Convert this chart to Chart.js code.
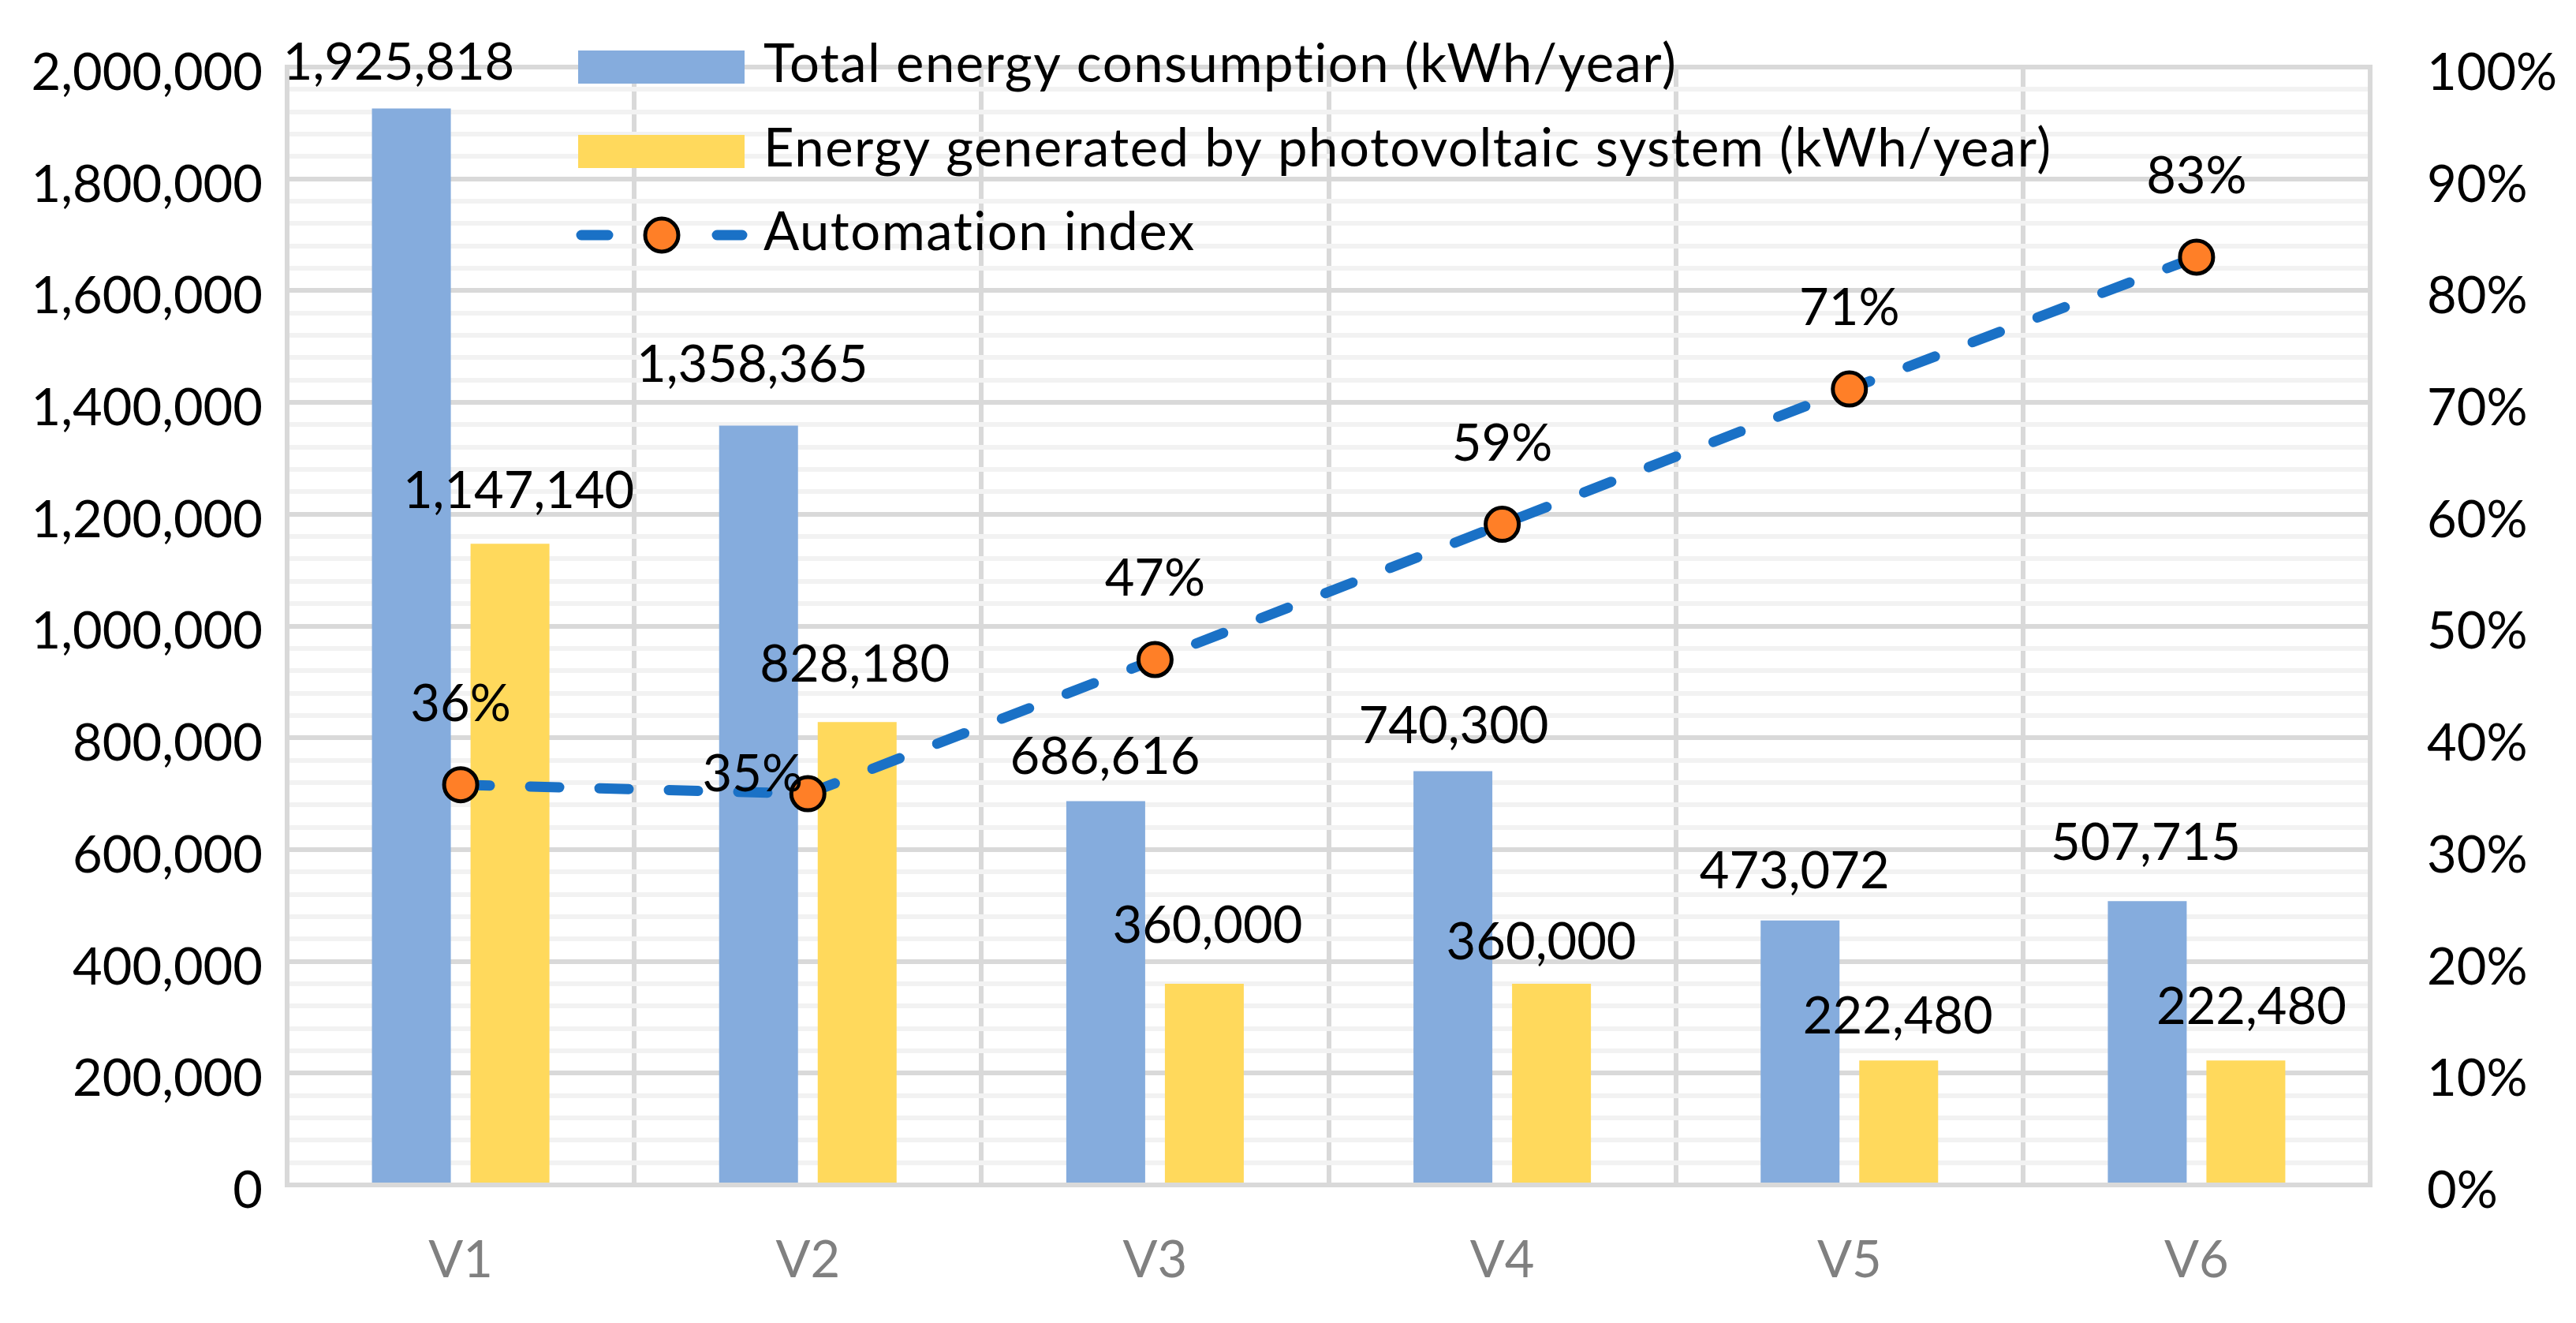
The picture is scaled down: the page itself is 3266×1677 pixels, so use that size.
<!DOCTYPE html>
<html>
<head>
<meta charset="utf-8">
<script src="https://cdn.jsdelivr.net/npm/chart.js@4.4.1/dist/chart.umd.min.js"></script>
<style>
  html, body { margin: 0; padding: 0; background: #fff; }
  #wrap { width: 3266px; height: 1677px; position: relative; }
</style>
</head>
<body>
<div id="wrap"><canvas id="chart"></canvas></div>
<script>
const categories = ['V1', 'V2', 'V3', 'V4', 'V5', 'V6'];
const totalConsumption = [1925818, 1358365, 686616, 740300, 473072, 507715];
const pvGenerated = [1147140, 828180, 360000, 360000, 222480, 222480];
const automationIndex = [0.358, 0.350, 0.470, 0.591, 0.712, 0.830];
const pctLabelSide = ['top', 'left', 'top', 'top', 'top', 'top'];

// hand-placed label nudges (px) as in the original figure
const totalLabelShift = [[-16, -58], [-8, -77], [-1, -56], [1, -56], [-7, -62], [-2, -73]];
const pvLabelShift = [[11, -66], [-3, -72], [4, -73], [-13, -52], [-1, -55], [7, -67]];

const seriesNames = [
    'Total energy consumption (kWh/year)',
    'Energy generated by photovoltaic system (kWh/year)',
    'Automation index'
];

const FONT = 'Lato, "Open Sans", sans-serif';
const FONT_SIZE = 65;
const BLUE = '#85acdd';
const YELLOW = '#ffd95c';
const LINE = '#1a71c6';
const ORANGE = '#ff7f27';
const GRID_MAJOR = '#d9d9d9';
const GRID_MINOR = '#f2f2f2';

// value labels above bars and points
const valueLabels = {
    id: 'valueLabels',
    afterDatasetsDraw(chart) {
        const ctx = chart.ctx;
        ctx.save();
        ctx.font = FONT_SIZE + 'px ' + FONT;
        ctx.fillStyle = '#000';
        ctx.textAlign = 'center';
        ctx.textBaseline = 'middle';
        chart.data.datasets.forEach((ds, i) => {
            const meta = chart.getDatasetMeta(i);
            const shifts = i === 1 ? totalLabelShift : pvLabelShift;
            meta.data.forEach((el, j) => {
                const v = ds.data[j];
                if (ds.type === 'line') {
                    const txt = Math.round(v * 100) + '%';
                    if (pctLabelSide[j] === 'left') {
                        ctx.fillText(txt, el.x - 70, el.y - 24);
                    } else {
                        ctx.fillText(txt, el.x, el.y - 102);
                    }
                } else {
                    ctx.fillText(v.toLocaleString('en-US'), el.x + shifts[j][0], el.y + shifts[j][1]);
                }
            });
        });
        ctx.restore();
    }
};

// legend drawn inside the plot, top left
const insideLegend = {
    id: 'insideLegend',
    afterDraw(chart) {
        const ctx = chart.ctx;
        const x0 = chart.chartArea.left + 369;
        const symW = 211;
        const top = chart.chartArea.top;
        const rows = [top, top + 107, top + 213];
        ctx.save();
        ctx.font = '67px ' + FONT;
        ctx.letterSpacing = '1.5px';
        ctx.textBaseline = 'middle';
        ctx.textAlign = 'left';
        ctx.fillStyle = BLUE;
        ctx.fillRect(x0, rows[0] - 21, symW, 42);
        ctx.fillStyle = YELLOW;
        ctx.fillRect(x0, rows[1] - 21, symW, 42);

        ctx.strokeStyle = LINE;
        ctx.lineWidth = 13;
        ctx.lineCap = 'round';
        ctx.beginPath();
        ctx.moveTo(x0 + 4, rows[2]);
        ctx.lineTo(x0 + 38, rows[2]);
        ctx.moveTo(x0 + 176, rows[2]);
        ctx.lineTo(x0 + 208, rows[2]);
        ctx.stroke();
        ctx.beginPath();
        ctx.arc(x0 + 106, rows[2], 21, 0, Math.PI * 2);
        ctx.fillStyle = ORANGE;
        ctx.fill();
        ctx.lineWidth = 5;
        ctx.strokeStyle = '#000';
        ctx.stroke();

        ctx.fillStyle = '#000';
        seriesNames.forEach((name, i) => {
            ctx.fillText(name, x0 + symW + 24, rows[i] - 3);
        });
        ctx.restore();
    }
};

function noVerticalPadding(scale) {
    scale.paddingTop = 0;
    scale.paddingBottom = 0;
}

const ctx = document.getElementById('chart');
new Chart(ctx, {
    data: {
        labels: categories,
        datasets: [
            {
                type: 'line',
                label: seriesNames[2],
                data: automationIndex,
                yAxisID: 'y1',
                order: 0,
                borderColor: LINE,
                borderWidth: 13,
                borderDash: [37, 51],
                borderCapStyle: 'round',
                tension: 0,
                fill: false,
                pointRadius: 21,
                pointHoverRadius: 21,
                pointBackgroundColor: ORANGE,
                pointBorderColor: '#000',
                pointBorderWidth: 5
            },
            {
                type: 'bar',
                label: seriesNames[0],
                data: totalConsumption,
                yAxisID: 'y',
                order: 1,
                backgroundColor: BLUE,
                categoryPercentage: 0.568,
                barPercentage: 0.8
            },
            {
                type: 'bar',
                label: seriesNames[1],
                data: pvGenerated,
                yAxisID: 'y',
                order: 2,
                backgroundColor: YELLOW,
                categoryPercentage: 0.568,
                barPercentage: 0.8
            }
        ]
    },
    options: {
        responsive: true,
        maintainAspectRatio: false,
        devicePixelRatio: 1,
        animation: false,
        layout: { padding: { top: 85, left: 0, right: 0, bottom: 0 } },
        plugins: {
            legend: { display: false },
            tooltip: { enabled: false }
        },
        scales: {
            x: {
                grid: { color: GRID_MAJOR, lineWidth: 6, drawTicks: false, offset: true },
                border: { display: true, color: GRID_MAJOR, width: 6 },
                ticks: {
                    color: '#808080',
                    font: { family: FONT, size: FONT_SIZE },
                    padding: 57,
                    maxRotation: 0
                },
                afterFit(scale) {
                    scale.height = 175;
                    scale.paddingLeft = 0;
                    scale.paddingRight = 0;
                }
            },
            y: {
                position: 'left',
                min: 0,
                max: 2000000,
                grid: {
                    drawTicks: false,
                    lineWidth: 6,
                    color: (c) => (c.tick && c.tick.value % 200000 === 0) ? GRID_MAJOR : GRID_MINOR
                },
                border: { display: true, color: GRID_MAJOR, width: 6 },
                ticks: {
                    stepSize: 40000,
                    autoSkip: false,
                    color: '#000',
                    padding: 31,
                    labelOffset: 8,
                    font: { family: FONT, size: FONT_SIZE },
                    callback: (v) => v % 200000 === 0 ? v.toLocaleString('en-US') : ''
                },
                afterFit(scale) {
                    scale.width = 364;
                    noVerticalPadding(scale);
                }
            },
            y1: {
                position: 'right',
                min: 0,
                max: 1,
                grid: { display: false, drawTicks: false },
                border: { display: true, color: GRID_MAJOR, width: 6 },
                ticks: {
                    stepSize: 0.1,
                    autoSkip: false,
                    color: '#000',
                    padding: 72,
                    labelOffset: 8,
                    font: { family: FONT, size: FONT_SIZE },
                    callback: (v) => Math.round(v * 100) + '%'
                },
                afterFit(scale) {
                    scale.width = 261;
                    noVerticalPadding(scale);
                }
            }
        }
    },
    plugins: [valueLabels, insideLegend]
});
</script>
</body>
</html>
